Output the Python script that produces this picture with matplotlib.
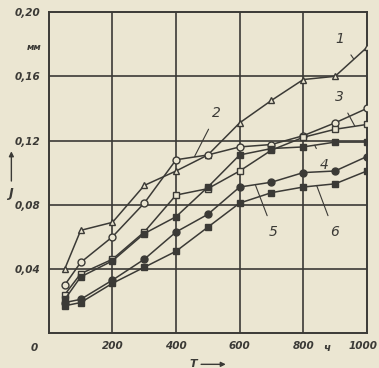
import numpy as np
import matplotlib
matplotlib.use("Agg")
import matplotlib.pyplot as plt
import matplotlib.transforms as mtrans

# время, ч
T = [50, 100, 200, 300, 400, 500, 600, 700, 800, 900, 1000]

# износ J, мм (кривые 1-6)
J1 = [0.040, 0.064, 0.069, 0.092, 0.101, 0.111, 0.131, 0.145, 0.158, 0.160, 0.178]
J2 = [0.030, 0.044, 0.060, 0.081, 0.108, 0.111, 0.116, 0.1175, 0.123, 0.131, 0.140]
J3 = [0.024, 0.037, 0.046, 0.063, 0.086, 0.090, 0.101, 0.114, 0.122, 0.127, 0.130]
J4 = [0.021, 0.035, 0.045, 0.062, 0.0725, 0.091, 0.111, 0.115, 0.116, 0.119, 0.119]
J5 = [0.019, 0.021, 0.033, 0.046, 0.063, 0.074, 0.091, 0.094, 0.100, 0.101, 0.110]
J6 = [0.017, 0.019, 0.031, 0.041, 0.051, 0.066, 0.081, 0.0875, 0.091, 0.093, 0.101]

xticks = [200, 400, 600, 800, 1000]
xlabels = ["200", "400", "600", "800", "1000"]
yticks = [0.04, 0.08, 0.12, 0.16, 0.20]
ylabels = ["0,04", "0,08", "0,12", "0,16", "0,20"]

paper = "#ebe6d2"
ink = "#3b3a36"

fig = plt.figure(figsize=(3.79, 3.68), dpi=100, facecolor=paper)
ax = fig.add_axes([0.129, 0.095, 0.839, 0.872], facecolor=paper)

ax.set_xlim(0, 1000)
ax.set_ylim(0, 0.20)

series = [
    (J1, "^", paper),
    (J2, "o", paper),
    (J3, "s", paper),
    (J4, "s", ink),
    (J5, "o", ink),
    (J6, "s", ink),
]
for J, m, fc in series:
    ax.plot(T, J, color=ink, lw=1.1, marker=m, ms=5, mfc=fc, mec=ink, mew=1.0, zorder=3)

for v in [200, 400, 600, 800]:
    ax.axvline(v, color=ink, lw=1.2, zorder=1)
for v in [0.04, 0.08, 0.12, 0.16]:
    ax.axhline(v, color=ink, lw=1.2, zorder=1)
for s in ax.spines.values():
    s.set_color(ink)
    s.set_linewidth(1.4)

ax.set_xticks(xticks)
ax.set_xticklabels(xlabels)
ax.set_yticks(yticks)
ax.set_yticklabels(ylabels)
ax.tick_params(length=0, pad=6, labelsize=7.5, colors=ink)
for t in ax.get_xticklabels() + ax.get_yticklabels():
    t.set_fontstyle("italic")
    t.set_fontweight("bold")
# "1000" slightly left so it stays inside the picture
last = ax.get_xticklabels()[-1]
last.set_transform(last.get_transform() + mtrans.ScaledTranslation(-4 / 100, 0, fig.dpi_scale_trans))

txt = dict(color=ink, fontsize=7.5, fontstyle="italic", fontweight="bold")
ax.text(-45, -0.0095, "0", ha="center", va="center", clip_on=False, **txt)
ax.text(875, -0.0095, "ч", ha="center", va="center", clip_on=False, **txt)
ax.text(-22, 0.178, "мм", ha="right", va="center", clip_on=False, fontsize=6.5,
        color=ink, fontweight="bold", fontstyle="italic")

# обозначения осей
ax.text(455, -0.019, "T", ha="center", va="center", clip_on=False,
        color=ink, fontsize=8, fontstyle="italic", fontweight="bold")
ax.annotate("", xy=(565, -0.0195), xytext=(470, -0.0195), annotation_clip=False,
            arrowprops=dict(arrowstyle="-|>", color=ink, lw=1.0, mutation_scale=7))
ax.text(-120, 0.087, "J", ha="center", va="center", clip_on=False, fontsize=9,
        color=ink, fontstyle="italic", fontweight="bold")
ax.annotate("", xy=(-118, 0.115), xytext=(-118, 0.093), annotation_clip=False,
            arrowprops=dict(arrowstyle="-|>", color=ink, lw=1.0, mutation_scale=7))

# номера кривых
lab = dict(color=ink, fontsize=10, fontstyle="italic", ha="center", va="center")
callouts = [
    ("1", (916, 0.183), (958, 0.171)),
    ("2", (528, 0.137), (458, 0.110)),
    ("3", (913, 0.147), (962, 0.129)),
    ("4", (866, 0.105), (836, 0.117)),
    ("5", (706, 0.063), (650, 0.092)),
    ("6", (897, 0.063), (842, 0.092)),
]
for n, (tx, ty), (px, py) in callouts:
    ax.annotate(n, xy=(px, py), xytext=(tx, ty), zorder=4,
                arrowprops=dict(arrowstyle="-", color=ink, lw=0.8,
                                shrinkA=5, shrinkB=0), **lab)

fig.savefig("out.png", dpi=100, facecolor=paper)
